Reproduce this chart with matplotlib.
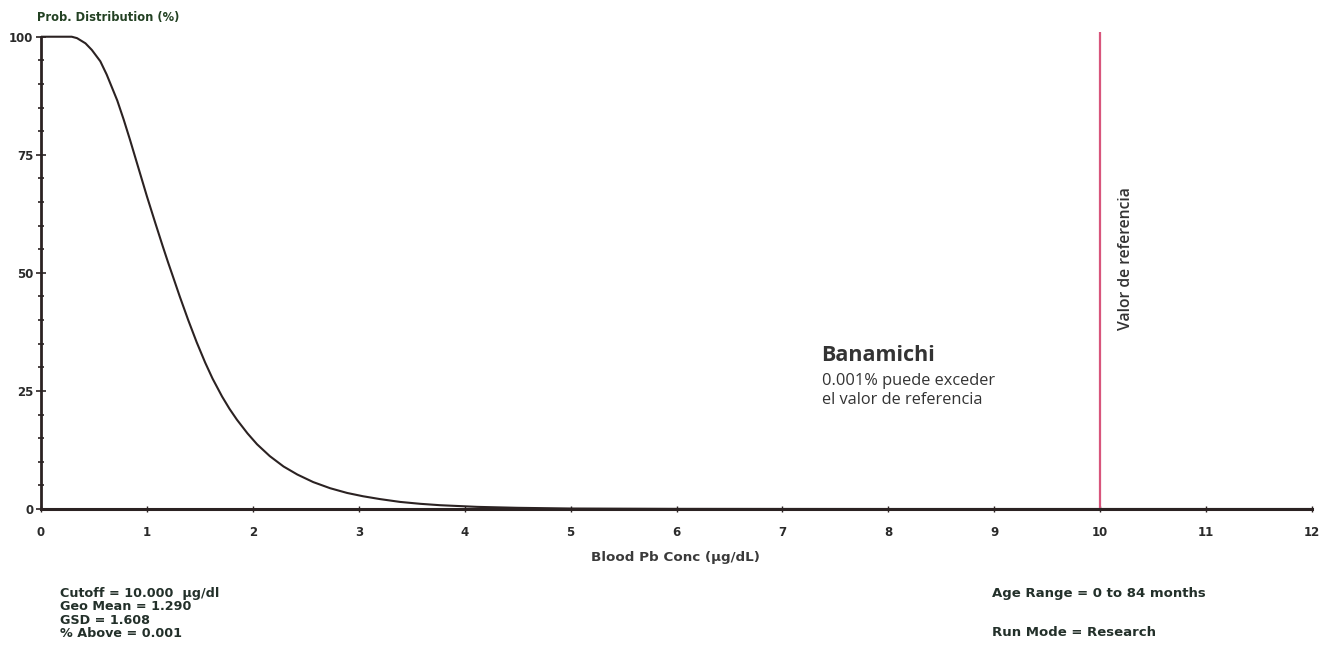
import matplotlib.pyplot as plt
from matplotlib.ticker import MultipleLocator

# Probability that blood Pb exceeds a given concentration (%)
conc = [0.0, 0.29, 0.34, 0.42, 0.48, 0.56, 0.62, 0.72, 0.78, 0.84, 0.92, 1.0,
        1.08, 1.15, 1.2, 1.24, 1.31, 1.39, 1.47, 1.55, 1.62, 1.71, 1.78, 1.85,
        1.95, 2.04, 2.16, 2.29, 2.42, 2.57, 2.73, 2.89, 3.04, 3.2, 3.39, 3.58,
        3.77, 4.12, 4.5, 5.0, 6.0, 7.0, 8.0, 10.0, 12.0]
prob = [100.0, 100.0, 99.7, 98.6, 97.2, 94.8, 92.0, 86.5, 82.5, 78.2, 72.2, 66.2,
        60.5, 55.6, 52.2, 49.6, 45.0, 40.0, 35.3, 31.0, 27.6, 23.8, 21.2, 18.9,
        16.0, 13.7, 11.2, 9.0, 7.3, 5.7, 4.4, 3.4, 2.7, 2.1, 1.5, 1.1,
        0.8, 0.45, 0.25, 0.1, 0.03, 0.01, 0.0, 0.0, 0.0]

cutoff = 10.0
x_ticks = list(range(0, 13))
y_ticks = [0, 25, 50, 75, 100]

stats_left = ["Cutoff = 10.000  µg/dl", "Geo Mean = 1.290", "GSD = 1.608", "% Above = 0.001"]
stats_right = ["Age Range = 0 to 84 months", "Run Mode = Research"]

W, H = 1325, 660
fig = plt.figure(figsize=(W / 100, H / 100), dpi=100)
ax = fig.add_axes([41 / W, 1 - 509 / H, (1312 - 41) / W, (509 - 32) / H])

ax.plot(conc, prob, color="#2b2222", lw=1.5, solid_joinstyle="round")
ax.axvline(cutoff, color="#d8557c", lw=1.6)

ax.set_xlim(0, 12)
ax.set_ylim(0, 101)
for side in ["top", "right"]:
    ax.spines[side].set_visible(False)
ax.spines["left"].set_bounds(0, 100)
ax.spines["left"].set_linewidth(2)
ax.spines["bottom"].set_linewidth(2.2)
ax.spines["left"].set_color("#2b2222")
ax.spines["bottom"].set_color("#2b2222")

ax.set_xticks(x_ticks)
ax.set_yticks(y_ticks)
ax.yaxis.set_minor_locator(MultipleLocator(5))
ax.tick_params(axis="both", which="both", direction="inout", color="#2b2222")
ax.tick_params(axis="y", which="major", length=7, width=1.2, pad=2)
ax.tick_params(axis="y", which="minor", length=5, width=1.2)
ax.tick_params(axis="x", which="major", length=4, width=1, pad=10)
for lab in ax.get_xticklabels() + ax.get_yticklabels():
    lab.set_fontsize(8.5)
    lab.set_fontweight("bold")
    lab.set_color("#2a2a2a")
    lab.set_family("DejaVu Sans")

bold = dict(fontweight="bold", family="DejaVu Sans", va="center", ha="left")
fig.text(37 / W, 1 - 17 / H, "Prob. Distribution (%)", fontsize=8.3,
         color="#234123", **bold)
fig.text(675 / W, 1 - 558 / H, "Blood Pb Conc (µg/dL)", fontsize=9.7,
         color="#3a3a3a", fontweight="bold", family="DejaVu Sans",
         va="center", ha="center")

for i, line in enumerate(stats_left):
    fig.text(60 / W, 1 - (593 + i * 13.5) / H, line, fontsize=9.2,
             color="#23302a", **bold)
fig.text(992 / W, 1 - 594 / H, stats_right[0], fontsize=9.5, color="#23302a", **bold)
fig.text(992 / W, 1 - 633 / H, stats_right[1], fontsize=9.5, color="#23302a", **bold)

ax.text(7.37, 32.5, "Banamichi", fontsize=15.5, fontweight="bold", color="#333333",
        family="Open Sans", va="center", ha="left")
ax.text(7.37, 27.2, "0.001% puede exceder", fontsize=11.8, color="#333333",
        family="Open Sans", va="center", ha="left")
ax.text(7.37, 23.0, "el valor de referencia", fontsize=11.8, color="#333333",
        family="Open Sans", va="center", ha="left")
ax.text(10.24, 53, "Valor de referencia", fontsize=11.3, fontweight="semibold",
        color="#333333", family="Open Sans", rotation=90, va="center", ha="center")

fig.savefig("out.png", dpi=100)
